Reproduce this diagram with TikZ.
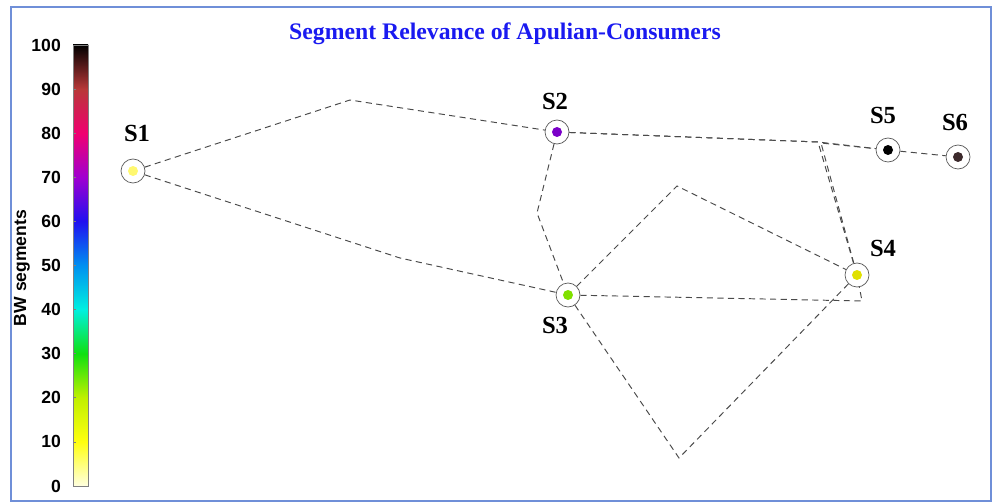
\documentclass[tikz,border=0pt]{standalone}
\usepackage{fontspec}
\setmainfont{Liberation Serif}
\setsansfont{Liberation Sans}
\usetikzlibrary{arrows,automata}
\usetikzlibrary{positioning}
\usetikzlibrary{calc}

\definecolor{frameblue}{HTML}{6F8FD8}
\definecolor{titleblue}{HTML}{1A1AF0}
\definecolor{edgegray}{HTML}{4A4A4A}
% colour map of the bar
\definecolor{cb0}{HTML}{FFFFE0}
\definecolor{cb1}{HTML}{FFFF10}
\definecolor{cb2}{HTML}{C0F000}
\definecolor{cb3}{HTML}{10E010}
\definecolor{cb4}{HTML}{00F0E0}
\definecolor{cb5}{HTML}{0090F0}
\definecolor{cb6}{HTML}{2010F0}
\definecolor{cb7}{HTML}{A000D0}
\definecolor{cb8}{HTML}{F00070}
\definecolor{cb9}{HTML}{B83838}
\definecolor{cb10}{HTML}{000000}
% segment colours
\definecolor{segA}{HTML}{FFF870}
\definecolor{segB}{HTML}{7A00C8}
\definecolor{segC}{HTML}{80E000}
\definecolor{segD}{HTML}{E0E000}
\definecolor{segE}{HTML}{000000}
\definecolor{segF}{HTML}{3C2A2C}

\begin{document}
\begin{tikzpicture}[x=0.02cm,y=-0.02cm,thin,
			link/.style={edgegray,line width=0.55pt,dash pattern=on 3.5pt off 2.5pt},
			segdot/.style={path picture={\fill[#1] (path picture bounding box.center) circle (0.1cm);}},
			lbl/.style={font=\bfseries\fontsize{14}{16}\selectfont},
			tick/.style={font=\sffamily\bfseries\fontsize{10}{12}\selectfont}]
			\tikzstyle{every state}=[draw=black!65,thin,minimum size=0.48cm,inner sep=0pt]
			
			\useasboundingbox (0,0) rectangle (993,503);
			\draw[frameblue,line width=0.04cm] (11,7) rectangle (991,501);
			
			\node[font=\bfseries\fontsize{13.5}{16}\selectfont,text=titleblue] (title) at (505,34) {Segment Relevance of Apulian-Consumers};
			
			% colour bar
			\foreach \lo/\hi [count=\i from 0] in {cb0/cb1,cb1/cb2,cb2/cb3,cb3/cb4,cb4/cb5,cb5/cb6,cb6/cb7,cb7/cb8,cb8/cb9,cb9/cb10}
				\shade[bottom color=\lo,top color=\hi] (73,{486-44.1*\i}) rectangle (88,{486-44.1*(\i+1)});
			\draw[black!50] (73,45) rectangle (88,486);
			\foreach \v in {0,10,...,100} {
				\draw[black!50] (73,{486-4.41*\v}) -- (76,{486-4.41*\v});
				\node[tick,anchor=east] (t\v) at (67,{486-4.41*\v}) {\v};
			}
			\node[tick,rotate=90] (bw) at (22,268) {BW segments};
			
			% segments
			\node[state,segdot=segA] (S1) at (133,171) {};
			\node[state,segdot=segB] (S2) at (557,132) {};
			\node[state,segdot=segC] (S3) at (568,295) {};
			\node[state,segdot=segD] (S4) at (857,275) {};
			\node[state,segdot=segE] (S5) at (888,150) {};
			\node[state,segdot=segF] (S6) at (958,157) {};
			
			\node[lbl] (L1) at (137,133) {S1};
			\node[lbl] (L2) at (555,101) {S2};
			\node[lbl] (L3) at (555,325) {S3};
			\node[lbl] (L4) at (883,248) {S4};
			\node[lbl] (L5) at (883,115) {S5};
			\node[lbl] (L6) at (955,122) {S6};
			
			% bends
			\coordinate (b1) at (350,100);
			\coordinate (b2) at (400,258);
			\coordinate (b3) at (537,213);
			\coordinate (b4) at (818,142);
			\coordinate (b5) at (821,143);
			\coordinate (b6) at (677,186);
			\coordinate (b7) at (862,301);
			\coordinate (b8) at (679,458);
			
			\draw[link] (S1) -- (b1) -- (S2);
			\draw[link] (S1) -- (b2) -- (S3);
			\draw[link] (S2) -- (b3) -- (S3);
			\draw[link] (S2) -- (b4) -- (S5);
			\draw[link] (S2) -- (b4) -- (S4);
			\draw[link] (S4) -- (b5) -- (S5);
			\draw[link] (S3) -- (b6) -- (S4);
			\draw[link] (S3) -- (b7) -- (S4);
			\draw[link] (S3) -- (b8) -- (S4);
			\draw[link] (S5) -- (S6);
			\end{tikzpicture}
\end{document}
